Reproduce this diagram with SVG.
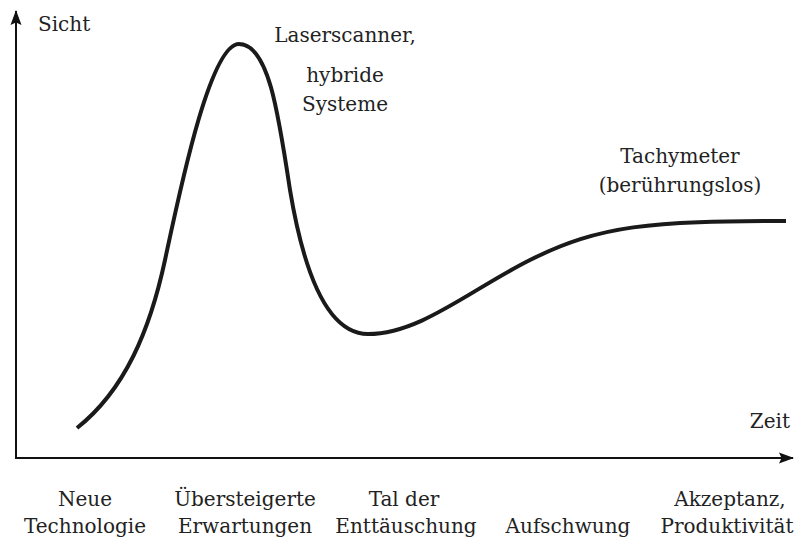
<svg xmlns="http://www.w3.org/2000/svg" width="804" height="542" viewBox="0 0 804 542">
<style>
.t{font-family:'DejaVu Serif','Liberation Serif',serif;font-size:20px;fill:#222}
.m{text-anchor:middle}
.ax{stroke:#111;stroke-width:2;fill:none}
.curve{stroke:#1a1a1a;stroke-width:4;fill:none;stroke-linecap:butt}
</style>
<defs>
<marker id="ah" markerWidth="15" markerHeight="12" refX="14" refY="6" orient="auto" markerUnits="userSpaceOnUse">
<path d="M0,0.5 L15,6 L0,11.5 L2.5,6 Z" fill="#111"/>
</marker>
</defs>
<g id="connectors">
<line class="ax" x1="16" y1="459" x2="16" y2="11" marker-end="url(#ah)"/>
<line class="ax" x1="15" y1="458" x2="793" y2="458" marker-end="url(#ah)"/>
<path class="curve" d="M 77 428 C 125 390, 150 330, 165 260 C 180 190, 210 44, 239 44 C 268 44, 278 110, 290 190 C 305 280, 330 334, 368 334 C 420 334, 470 290, 530 260 C 600 225, 650 221, 786 221"/>
</g>
<g class="t">
<g id="axis-labels">
<text x="38" y="31">Sicht</text>
<text x="790" y="428" text-anchor="end">Zeit</text>
</g>
<g id="peak-label">
<text class="m" x="345" y="42">Laserscanner,</text>
<text class="m" x="345" y="82">hybride</text>
<text class="m" x="345" y="111">Systeme</text>
</g>
<g id="plateau-label">
<text class="m" x="680" y="163">Tachymeter</text>
<text class="m" x="680" y="192">(berührungslos)</text>
</g>
<g id="phase-1"><text class="m" x="85" y="506">Neue</text><text class="m" x="85" y="533">Technologie</text></g>
<g id="phase-2"><text class="m" x="245" y="506">Übersteigerte</text><text class="m" x="245" y="533">Erwartungen</text></g>
<g id="phase-3"><text class="m" x="404" y="506">Tal der</text><text class="m" x="406" y="533">Enttäuschung</text></g>
<g id="phase-4"><text class="m" x="568" y="533">Aufschwung</text></g>
<g id="phase-5"><text class="m" x="730" y="506">Akzeptanz,</text><text class="m" x="727" y="533">Produktivität</text></g>
</g>
</svg>
